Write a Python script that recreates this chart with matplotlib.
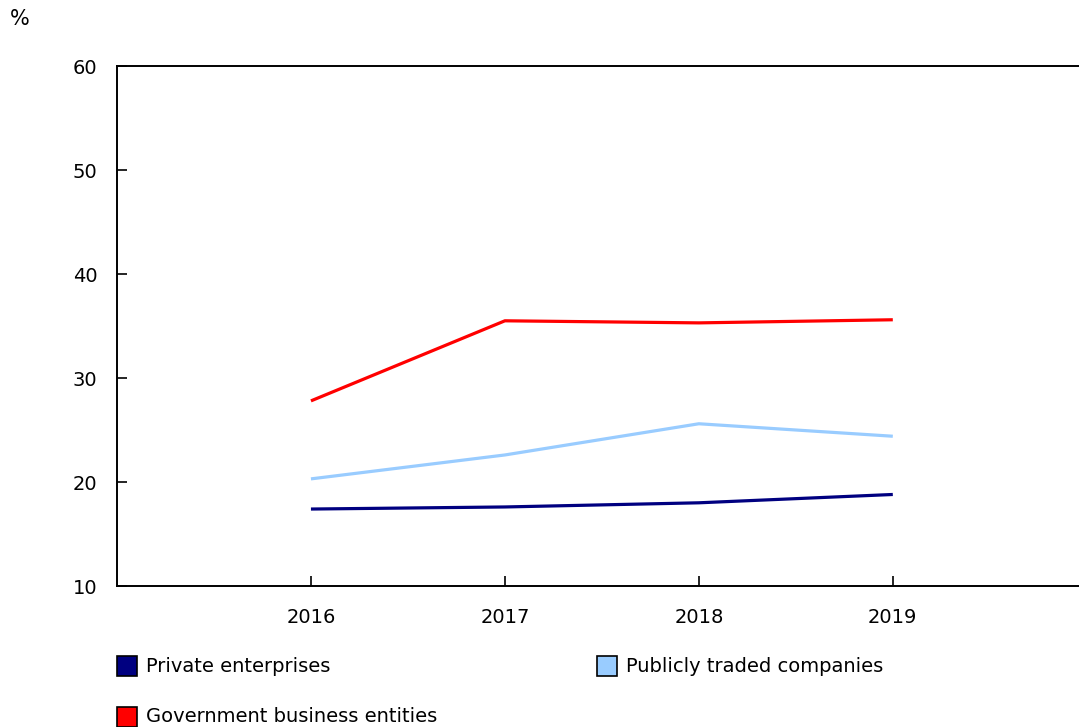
import matplotlib
matplotlib.use("Agg")
import matplotlib.pyplot as plt
from matplotlib.patches import Rectangle

years = [2016, 2017, 2018, 2019]
private = [17.4, 17.6, 18.0, 18.8]
public = [20.3, 22.6, 25.6, 24.4]
government = [27.8, 35.5, 35.3, 35.6]

series = [
    ("Private enterprises", private, "#000080"),
    ("Publicly traded companies", public, "#99ccff"),
    ("Government business entities", government, "#ff0000"),
]

plt.rcParams["font.family"] = ["DejaVu Sans"]
FS = 14

fig = plt.figure(figsize=(10.79, 7.27), dpi=100)
ax = fig.add_axes([117 / 1079, 1 - 586 / 727, 1 - 117 / 1079, (586 - 66) / 727])

for name, vals, col in series:
    ax.plot(years, vals, color=col, lw=2.3, solid_capstyle="butt", label=name)

ax.set_xlim(2015, 2019.96)
ax.set_ylim(10, 60)
ax.set_xticks(years)
ax.set_yticks(range(10, 61, 10))
ax.tick_params(direction="in", length=7, width=1.2, labelsize=FS, color="black")
ax.tick_params(axis="y", pad=14)
ax.tick_params(axis="x", pad=16)
for side in ("left", "bottom", "top"):
    ax.spines[side].set_linewidth(1.4)
ax.spines["right"].set_visible(False)

fig.text(10 / 1079, 1 - 19 / 727, "%", fontsize=FS + 1, va="center", ha="left")

# legend drawn in figure pixel coordinates
legend_pos = [(117, 666), (597, 666), (117, 717)]
for (name, vals, col), (px, py) in zip(series, legend_pos):
    fig.patches.append(Rectangle((px / 1079, 1 - (py + 10) / 727), 20 / 1079, 20 / 727,
                                 transform=fig.transFigure, facecolor=col,
                                 edgecolor="black", lw=1.2))
    fig.text((px + 29) / 1079, 1 - py / 727, name, fontsize=FS, va="center", ha="left")

fig.savefig("out.png", dpi=100)
